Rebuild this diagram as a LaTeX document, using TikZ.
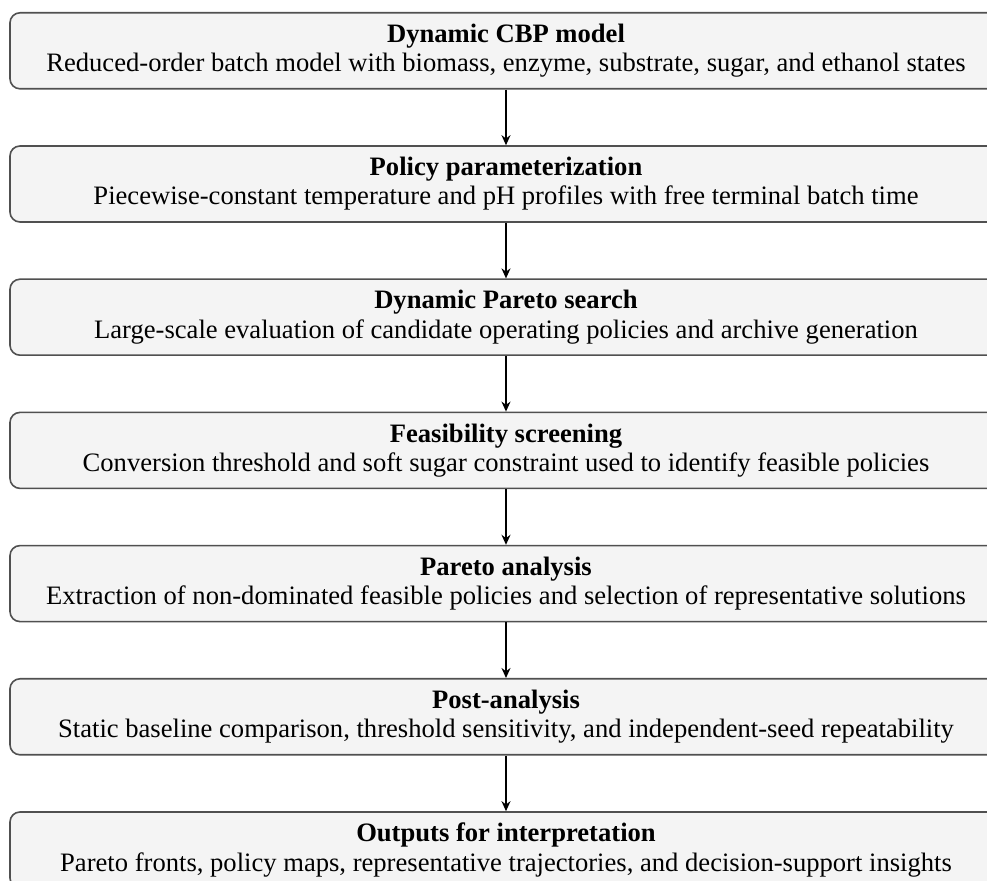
\documentclass[tikz,border=0pt]{standalone}
\usepackage{fontspec}
\setmainfont{Liberation Serif}
\usetikzlibrary{positioning,arrows.meta}
\definecolor{boxfill}{HTML}{F4F4F4}
\definecolor{boxline}{HTML}{505050}
\tikzset{
  stage/.style={draw=boxline, fill=boxfill, rounded corners=5pt, line width=0.8pt,
    minimum width=496pt, minimum height=38pt, align=center, inner sep=2pt,
    font=\fontsize{13.3}{14.6}\selectfont},
  flow/.style={-{Stealth[length=5pt,width=4.5pt]}, line width=0.8pt}
}
\begin{document}
\begin{tikzpicture}[x=0.5pt, y=-0.5pt, node distance=27.8pt]
    \useasboundingbox (0,0) rectangle (987,881);

    % stages of the workflow
    \node[stage, anchor=north] (model) at (506,12)
        {\textbf{Dynamic CBP model}\\Reduced-order batch model with biomass, enzyme, substrate, sugar, and ethanol states};
    \node[stage, below=of model] (policy)
        {\textbf{Policy parameterization}\\Piecewise-constant temperature and pH profiles with free terminal batch time};
    \node[stage, below=of policy] (search)
        {\textbf{Dynamic Pareto search}\\Large-scale evaluation of candidate operating policies and archive generation};
    \node[stage, below=of search] (screen)
        {\textbf{Feasibility screening}\\Conversion threshold and soft sugar constraint used to identify feasible policies};
    \node[stage, below=of screen] (pareto)
        {\textbf{Pareto analysis}\\Extraction of non-dominated feasible policies and selection of representative solutions};
    \node[stage, below=of pareto] (post)
        {\textbf{Post-analysis}\\Static baseline comparison, threshold sensitivity, and independent-seed repeatability};
    \node[stage, below=of post] (outputs)
        {\textbf{Outputs for interpretation}\\Pareto fronts, policy maps, representative trajectories, and decision-support insights};

    % connectors
    \draw[flow] (model) -- (policy);
    \draw[flow] (policy) -- (search);
    \draw[flow] (search) -- (screen);
    \draw[flow] (screen) -- (pareto);
    \draw[flow] (pareto) -- (post);
    \draw[flow] (post) -- (outputs);
\end{tikzpicture}
\end{document}
